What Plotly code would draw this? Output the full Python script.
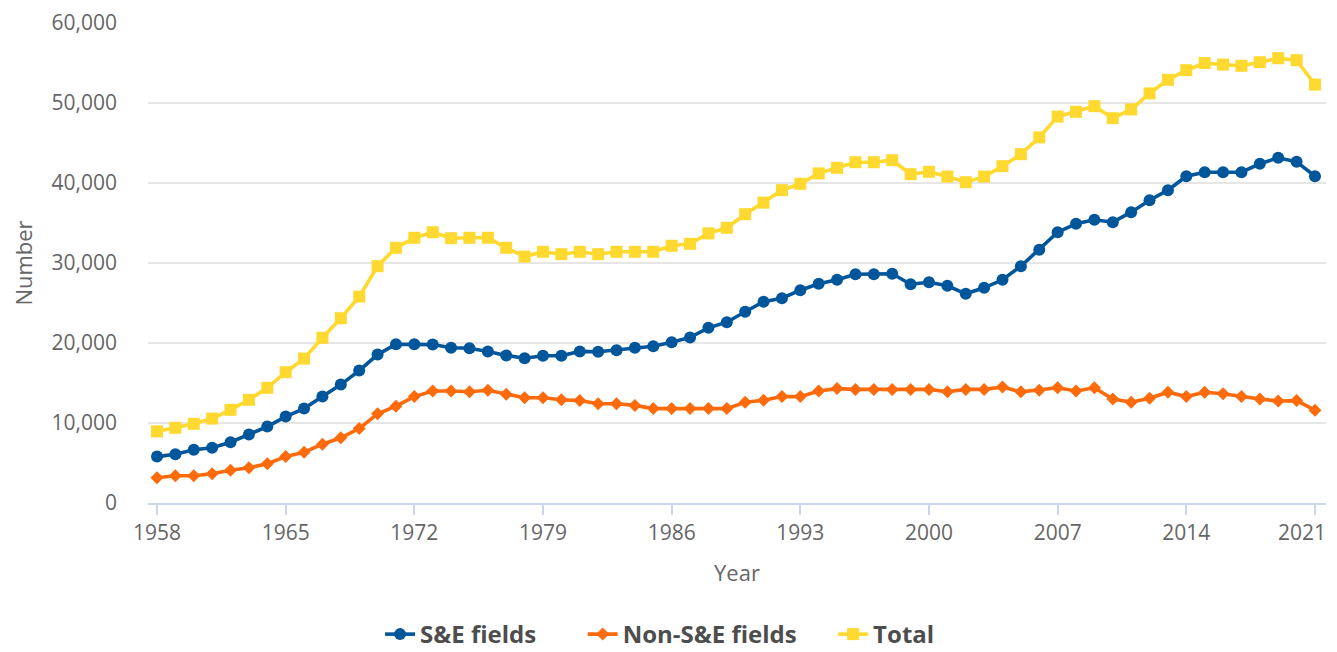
import plotly.graph_objects as go

years = list(range(1958, 2022))

se_fields = [
    5800, 6100, 6650, 6900, 7600, 8550, 9550, 10800, 11800, 13300,
    14800, 16550, 18550, 19850, 19850, 19800, 19400, 19350, 18950, 18450,
    18100, 18400, 18400, 18950, 18900, 19100, 19400, 19600, 20100, 20700,
    21900, 22600, 23900, 25150, 25600, 26600, 27400, 27900, 28600, 28600,
    28650, 27350, 27600, 27150, 26150, 26900, 27900, 29600, 31650, 33850,
    34900, 35400, 35100, 36350, 37850, 39100, 40850, 41350, 41350, 41350,
    42400, 43150, 42650, 40850,
]

non_se_fields = [
    3150, 3400, 3400, 3650, 4100, 4400, 4900, 5800, 6350, 7350,
    8150, 9300, 11150, 12100, 13300, 14000, 14000, 13900, 14100, 13600,
    13150, 13150, 12900, 12800, 12400, 12400, 12200, 11800, 11800, 11800,
    11800, 11800, 12600, 12850, 13300, 13300, 14000, 14300, 14200, 14200,
    14200, 14200, 14200, 13900, 14200, 14200, 14500, 13900, 14100, 14400,
    14000, 14400, 13000, 12600, 13100, 13850, 13300, 13850, 13650, 13300,
    13000, 12750, 12800, 11600,
]

total = [
    8950, 9400, 9900, 10550, 11650, 12900, 14400, 16350, 18050, 20650,
    23100, 25800, 29600, 31900, 33150, 33850, 33100, 33150, 33150, 31900,
    30800, 31400, 31100, 31400, 31100, 31400, 31400, 31400, 32150, 32400,
    33700, 34400, 36100, 37550, 39100, 39900, 41200, 41900, 42600, 42600,
    42850, 41100, 41400, 40800, 40100, 40800, 42100, 43600, 45700, 48300,
    48900, 49600, 48100, 49200, 51200, 52900, 54100, 55000, 54800, 54650,
    55100, 55600, 55350, 52300,
]

x_tick_years = [1958, 1965, 1972, 1979, 1986, 1993, 2000, 2007, 2014, 2021]
x_tick_labels = ["1958", "1965", "1972", "1979", "1986", "1993", "2000", "2007",
                 "2014", "2021"]

series_names = ["S&E fields", "Non-S&E fields", "Total"]
series_colors = ["#00569B", "#FF6A0A", "#FFD92F"]
series_symbols = ["circle", "diamond", "square"]
series_sizes = [12, 10, 12]
series_values = [se_fields, non_se_fields, total]
legend_ids = ["legend", "legend2", "legend3"]
legend_x = [0.197, 0.369, 0.5816]

FONT = "Open Sans"
LEGEND_FONT = dict(family=FONT, size=24, color="#4d4d4d", weight="bold")

fig = go.Figure()
for name, color, sym, size, vals, lid in zip(series_names, series_colors,
                                             series_symbols, series_sizes,
                                             series_values, legend_ids):
    fig.add_trace(go.Scatter(
        x=years, y=vals, name=name, mode="lines+markers",
        line=dict(color=color, width=3.6),
        marker=dict(color=color, symbol=sym, size=size, line=dict(width=0)),
        legend=lid,
    ))

legend_layout = {}
for lid, lx in zip(legend_ids, legend_x):
    legend_layout[lid] = dict(
        orientation="h", x=lx, xanchor="left", y=-0.274, yanchor="middle",
        font=LEGEND_FONT, itemwidth=30, bgcolor="rgba(0,0,0,0)",
    )

# the last tick label is nudged left so it stays inside the canvas, as in the original
fig.add_annotation(
    x=x_tick_years[-1], y=0, xref="x", yref="paper",
    text=x_tick_labels[-1], showarrow=False,
    xanchor="right", yanchor="middle", xshift=13, yshift=-29,
    font=dict(family=FONT, size=21, color="#666666"),
)

# page body has an 8px default margin: figure is sized to fit the window
fig.update_layout(
    width=1329, height=644,
    margin=dict(l=140, r=11, t=15, b=149, autoexpand=False),
    paper_bgcolor="white", plot_bgcolor="white",
    font=dict(family=FONT, color="#666666", size=21),
    showlegend=True,
    **legend_layout,
    xaxis=dict(
        range=[1957.51, 2021.6], automargin=False,
        tickmode="array", tickvals=x_tick_years,
        ticktext=x_tick_labels[:-1] + [""],
        showgrid=False, zeroline=False,
        showline=True, linecolor="#ccd6eb", linewidth=1.8,
        ticks="outside", ticklen=10, tickwidth=1.8, tickcolor="#ccd6eb",
        tickfont=dict(family=FONT, size=21, color="#666666"),
        title=dict(text="Year", standoff=21,
                   font=dict(family=FONT, size=22, color="#666666")),
    ),
    yaxis=dict(
        range=[0, 60000], tickmode="linear", tick0=0, dtick=10000,
        tickformat=",", automargin=False,
        showgrid=True, gridcolor="#e6e6e6", gridwidth=1.8,
        zeroline=False, showline=False,
        ticks="", ticklabelstandoff=30,
        tickfont=dict(family=FONT, size=21, color="#666666"),
        title=dict(text="Number", standoff=12,
                   font=dict(family=FONT, size=22, color="#666666")),
    ),
)

fig.write_html("out.html")
